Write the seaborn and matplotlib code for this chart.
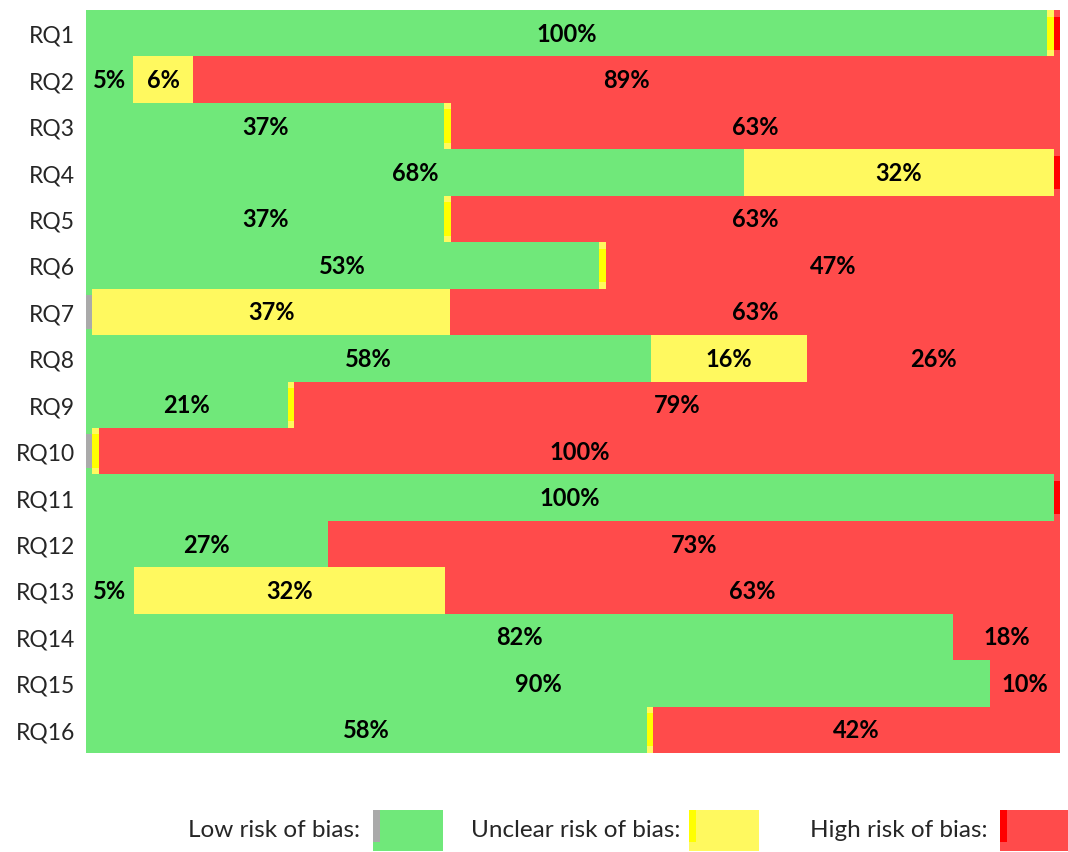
import matplotlib
matplotlib.use("Agg")
import matplotlib.pyplot as plt
import seaborn as sns
from matplotlib.patches import Rectangle

# data (percent of bar length)
questions = ["RQ%d" % i for i in range(1, 17)]
low = [98.7, 4.8, 36.8, 67.6, 36.8, 52.7, 0, 58.0, 20.7, 0, 99.35, 24.8, 4.9, 89.0, 92.8, 57.6]
unclear = [0, 6.2, 0, 31.75, 0, 0, 36.75, 16.0, 0, 0, 0, 0, 32.0, 0, 0, 0]
high = [0, 89.0, 62.55, 0, 62.55, 46.65, 62.6, 26.0, 78.65, 98.7, 0, 75.2, 63.1, 11.0, 7.2, 41.75]

# text shown in each segment
low_lbl = ["100%", "5%", "37%", "68%", "37%", "53%", "", "58%", "21%", "", "100%", "27%", "5%", "82%", "90%", "58%"]
unclear_lbl = ["", "6%", "", "32%", "", "", "37%", "16%", "", "", "", "", "32%", "", "", ""]
high_lbl = ["", "89%", "63%", "", "63%", "47%", "63%", "26%", "79%", "100%", "", "73%", "63%", "18%", "10%", "42%"]

# zero segments still drawn as a thin marker
low_zero = [0, 0, 0, 0, 0, 0, 1, 0, 0, 1, 0, 0, 0, 0, 0, 0]
unclear_zero = [1, 0, 1, 0, 1, 1, 0, 0, 1, 1, 0, 0, 0, 0, 0, 1]
high_zero = [1, 0, 0, 1, 0, 0, 0, 0, 0, 0, 1, 0, 0, 0, 0, 0]

legend_names = ["Low risk of bias:", "Unclear risk of bias:", "High risk of bias:"]

green, yellow, red = "#70E87A", "#FFF95F", "#FF4B4B"
edges = ["#AAAAAA", "#FFFF00", "#FF0000"]
sliver = 0.65

sns.set_theme(style="white")
plt.rcParams["font.family"] = ["Lato", "DejaVu Sans"]

fig = plt.figure(figsize=(10.68, 8.53), dpi=100)
ax = fig.add_axes([86 / 1068, 1 - 754 / 853, 974 / 1068, 743 / 853])

series = [(low, low_lbl, low_zero, green, edges[0]),
          (unclear, unclear_lbl, unclear_zero, yellow, edges[1]),
          (high, high_lbl, high_zero, red, edges[2])]

left = [0.0] * len(questions)
for vals, lbls, zeros, col, edge in series:
    for i, q in enumerate(questions):
        w = vals[i]
        if w > 0:
            ax.barh(i, w, left=left[i], height=1.0, color=col, linewidth=0)
            ax.text(left[i] + w / 2, i, lbls[i], ha="center", va="center",
                    fontsize=17, fontweight="bold", color="black")
            left[i] += w
        elif zeros[i]:
            ax.barh(i, sliver, left=left[i], height=1.0, color=col, linewidth=0)
            ax.barh(i, sliver, left=left[i], height=0.72, color=edge, linewidth=0)
            left[i] += sliver

ax.set_xlim(0, 100)
ax.set_ylim(len(questions) - 0.5, -0.5)
ax.set_yticks(range(len(questions)))
ax.set_yticklabels(questions, fontsize=16.5)
ax.set_xticks([])
ax.tick_params(axis="y", length=0, pad=8)
sns.despine(ax=ax, left=True, bottom=True)

# legend along the bottom
text_right = [360, 680, 987]
box_left = [373, 689, 1000]
for name, col, edge, tx, bx in zip(legend_names, [green, yellow, red], edges, text_right, box_left):
    fig.text(tx / 1068, 1 - 831 / 853, name, ha="right", va="center", fontsize=17.5)
    fig.add_artist(Rectangle((bx / 1068, 1 - 852 / 853), 70 / 1068, 41 / 853,
                             transform=fig.transFigure, color=col, linewidth=0))
    fig.add_artist(Rectangle((bx / 1068, 1 - 843 / 853), 7 / 1068, 32 / 853,
                             transform=fig.transFigure, color=edge, linewidth=0))

fig.savefig("out.png", dpi=100)
